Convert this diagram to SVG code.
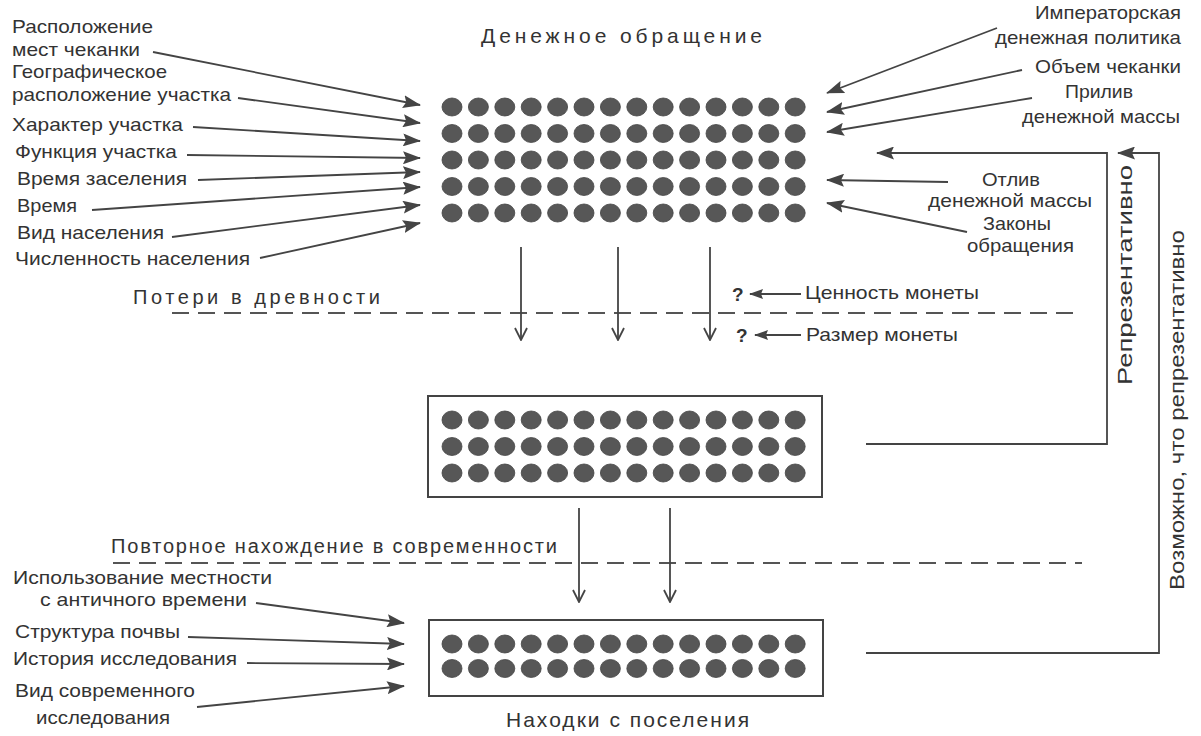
<svg xmlns="http://www.w3.org/2000/svg" xmlns:xlink="http://www.w3.org/1999/xlink" width="1201" height="736" viewBox="0 0 1201 736">
<style>
.t{font-family:"Liberation Sans",Arial,sans-serif;font-size:19px;fill:#333}
.tl{font-family:"Liberation Sans",Arial,sans-serif;font-size:20px;fill:#333}
.th{font-family:"Liberation Sans",Arial,sans-serif;font-size:21px;fill:#333}
.tv{font-family:"Liberation Sans",Arial,sans-serif;font-size:20px;fill:#333}
.q{font-family:"Liberation Sans",Arial,sans-serif;font-size:19px;font-weight:bold;fill:#333}
.ln{stroke:#444;stroke-width:1.8;fill:none}
.dash{stroke:#555;stroke-width:2;fill:none;stroke-dasharray:17 9}
.box{stroke:#444;stroke-width:2;fill:none}
.dot{fill:#575757;stroke:#444;stroke-width:0.8}
</style>
<defs>
<marker id="fa" viewBox="0 0 18 13" refX="17" refY="6.5" markerWidth="18" markerHeight="13" markerUnits="userSpaceOnUse" orient="auto">
<path d="M0,0 L18,6.5 L0,13 L3,6.5 Z" fill="#444"/>
</marker>
<marker id="fs" viewBox="0 0 14 10" refX="13" refY="5" markerWidth="14" markerHeight="10" markerUnits="userSpaceOnUse" orient="auto">
<path d="M0,0 L14,5 L0,10 L2,5 Z" fill="#444"/>
</marker>
<marker id="va" viewBox="-1 -1 14 14" refX="12" refY="6" markerWidth="14" markerHeight="14" markerUnits="userSpaceOnUse" orient="auto">
<path d="M0,0 L12,6 L0,12" fill="none" stroke="#444" stroke-width="1.8"/>
</marker>
<g id="row">
<ellipse class="dot" cx="452" cy="0" rx="10" ry="9"/>
<ellipse class="dot" cx="478.4" cy="0" rx="10" ry="9"/>
<ellipse class="dot" cx="504.8" cy="0" rx="10" ry="9"/>
<ellipse class="dot" cx="531.2" cy="0" rx="10" ry="9"/>
<ellipse class="dot" cx="557.6" cy="0" rx="10" ry="9"/>
<ellipse class="dot" cx="584" cy="0" rx="10" ry="9"/>
<ellipse class="dot" cx="610.4" cy="0" rx="10" ry="9"/>
<ellipse class="dot" cx="636.8" cy="0" rx="10" ry="9"/>
<ellipse class="dot" cx="663.2" cy="0" rx="10" ry="9"/>
<ellipse class="dot" cx="689.6" cy="0" rx="10" ry="9"/>
<ellipse class="dot" cx="716" cy="0" rx="10" ry="9"/>
<ellipse class="dot" cx="742.4" cy="0" rx="10" ry="9"/>
<ellipse class="dot" cx="768.8" cy="0" rx="10" ry="9"/>
<ellipse class="dot" cx="795.2" cy="0" rx="10" ry="9"/>
</g>
</defs>
<rect width="1201" height="736" fill="#fff"/>

<g id="node-circulation">
<text class="th" x="481" y="43" textLength="281" lengthAdjust="spacing">Денежное обращение</text>
<use href="#row" y="107"/>
<use href="#row" y="133.5"/>
<use href="#row" y="160"/>
<use href="#row" y="186.5"/>
<use href="#row" y="213"/>
</g>

<g id="node-lost">
<rect class="box" x="428" y="396" width="394" height="101"/>
<use href="#row" y="420"/>
<use href="#row" y="446.5"/>
<use href="#row" y="473"/>
</g>

<g id="node-finds">
<rect class="box" x="429" y="620" width="394" height="76"/>
<use href="#row" y="644"/>
<use href="#row" y="668.5"/>
<text class="th" x="506" y="727" textLength="243" lengthAdjust="spacing">Находки с поселения</text>
</g>

<g id="labels-left-top">
<text class="t" x="12" y="33" textLength="141" lengthAdjust="spacingAndGlyphs">Расположение</text>
<text class="t" x="12" y="56" textLength="128" lengthAdjust="spacingAndGlyphs">мест чеканки</text>
<text class="t" x="12" y="78" textLength="155" lengthAdjust="spacingAndGlyphs">Географическое</text>
<text class="t" x="12" y="101" textLength="219" lengthAdjust="spacingAndGlyphs">расположение участка</text>
<text class="t" x="12" y="131" textLength="171" lengthAdjust="spacingAndGlyphs">Характер участка</text>
<text class="t" x="15" y="158" textLength="162" lengthAdjust="spacingAndGlyphs">Функция участка</text>
<text class="t" x="17" y="185" textLength="170" lengthAdjust="spacingAndGlyphs">Время заселения</text>
<text class="t" x="17" y="212" textLength="60" lengthAdjust="spacingAndGlyphs">Время</text>
<text class="t" x="17" y="239" textLength="147" lengthAdjust="spacingAndGlyphs">Вид населения</text>
<text class="t" x="15" y="265" textLength="235" lengthAdjust="spacingAndGlyphs">Численность населения</text>
</g>

<g id="labels-right-top">
<text class="t" x="1035" y="19" textLength="146" lengthAdjust="spacingAndGlyphs">Императорская</text>
<text class="t" x="995" y="44" textLength="186" lengthAdjust="spacingAndGlyphs">денежная политика</text>
<text class="t" x="1035" y="73" textLength="146" lengthAdjust="spacingAndGlyphs">Объем чеканки</text>
<text class="t" x="1065" y="98" textLength="68" lengthAdjust="spacingAndGlyphs">Прилив</text>
<text class="t" x="1022" y="123" textLength="158" lengthAdjust="spacingAndGlyphs">денежной массы</text>
<text class="t" x="982" y="186" textLength="58" lengthAdjust="spacingAndGlyphs">Отлив</text>
<text class="t" x="928" y="207" textLength="164" lengthAdjust="spacingAndGlyphs">денежной массы</text>
<text class="t" x="983" y="230" textLength="68" lengthAdjust="spacingAndGlyphs">Законы</text>
<text class="t" x="967" y="252" textLength="107" lengthAdjust="spacingAndGlyphs">обращения</text>
</g>

<g id="labels-middle">
<text class="tl" x="133" y="304" textLength="247" lengthAdjust="spacing">Потери в древности</text>
<text class="q" x="732" y="301">?</text>
<text class="t" x="805" y="299" textLength="174" lengthAdjust="spacingAndGlyphs">Ценность монеты</text>
<text class="q" x="736" y="342">?</text>
<text class="t" x="806" y="341" textLength="152" lengthAdjust="spacingAndGlyphs">Размер монеты</text>
<text class="tl" x="111" y="553" textLength="446" lengthAdjust="spacing">Повторное нахождение в современности</text>
</g>

<g id="labels-left-bottom">
<text class="t" x="13" y="584" textLength="259" lengthAdjust="spacingAndGlyphs">Использование местности</text>
<text class="t" x="40" y="606" textLength="207" lengthAdjust="spacingAndGlyphs">с античного времени</text>
<text class="t" x="15" y="638" textLength="165" lengthAdjust="spacingAndGlyphs">Структура почвы</text>
<text class="t" x="13" y="665" textLength="224" lengthAdjust="spacingAndGlyphs">История исследования</text>
<text class="t" x="15" y="697" textLength="180" lengthAdjust="spacingAndGlyphs">Вид современного</text>
<text class="t" x="36" y="724" textLength="134" lengthAdjust="spacingAndGlyphs">исследования</text>
</g>

<g id="labels-vertical">
<text class="tv" transform="translate(1132,385) rotate(-90)" textLength="220" lengthAdjust="spacingAndGlyphs">Репрезентативно</text>
<text class="tv" transform="translate(1184,590) rotate(-90)" textLength="360" lengthAdjust="spacingAndGlyphs">Возможно, что репрезентативно</text>
</g>

<g id="dividers">
<line class="dash" x1="172" y1="313" x2="1082" y2="313"/>
<line class="dash" x1="113" y1="563" x2="1082" y2="563"/>
</g>

<g id="connectors">
<line class="ln" x1="153" y1="52" x2="420" y2="105" marker-end="url(#fa)"/>
<line class="ln" x1="238" y1="98" x2="420" y2="123" marker-end="url(#fa)"/>
<line class="ln" x1="193" y1="127" x2="420" y2="141" marker-end="url(#fa)"/>
<line class="ln" x1="187" y1="155" x2="420" y2="158" marker-end="url(#fa)"/>
<line class="ln" x1="198" y1="180" x2="420" y2="172" marker-end="url(#fa)"/>
<line class="ln" x1="92" y1="210" x2="420" y2="187" marker-end="url(#fa)"/>
<line class="ln" x1="172" y1="237" x2="420" y2="205" marker-end="url(#fa)"/>
<line class="ln" x1="260" y1="258" x2="420" y2="223" marker-end="url(#fa)"/>

<line class="ln" x1="997" y1="28" x2="827" y2="93" marker-end="url(#fa)"/>
<line class="ln" x1="1022" y1="70" x2="827" y2="112" marker-end="url(#fa)"/>
<line class="ln" x1="1032" y1="98" x2="827" y2="132" marker-end="url(#fa)"/>
<line class="ln" x1="948" y1="182" x2="827" y2="180" marker-end="url(#fa)"/>
<line class="ln" x1="967" y1="232" x2="827" y2="203" marker-end="url(#fa)"/>

<line class="ln" x1="521" y1="247" x2="521" y2="340" marker-end="url(#va)"/>
<line class="ln" x1="618" y1="247" x2="618" y2="340" marker-end="url(#va)"/>
<line class="ln" x1="710" y1="247" x2="710" y2="340" marker-end="url(#va)"/>

<line class="ln" x1="801" y1="294" x2="750" y2="294" marker-end="url(#fs)"/>
<line class="ln" x1="801" y1="335" x2="755" y2="335" marker-end="url(#fs)"/>

<line class="ln" x1="579" y1="508" x2="579" y2="602" marker-end="url(#va)"/>
<line class="ln" x1="670" y1="508" x2="670" y2="602" marker-end="url(#va)"/>

<line class="ln" x1="256" y1="603" x2="404" y2="623" marker-end="url(#fa)"/>
<line class="ln" x1="188" y1="637" x2="404" y2="644" marker-end="url(#fa)"/>
<line class="ln" x1="247" y1="663" x2="404" y2="664" marker-end="url(#fa)"/>
<line class="ln" x1="197" y1="707" x2="404" y2="686" marker-end="url(#fa)"/>

<polyline class="ln" points="866,444 1107,444 1107,153 877,153" marker-end="url(#fa)"/>
<polyline class="ln" points="866,653 1159,653 1159,153 1118,153" marker-end="url(#fa)"/>
</g>
</svg>
